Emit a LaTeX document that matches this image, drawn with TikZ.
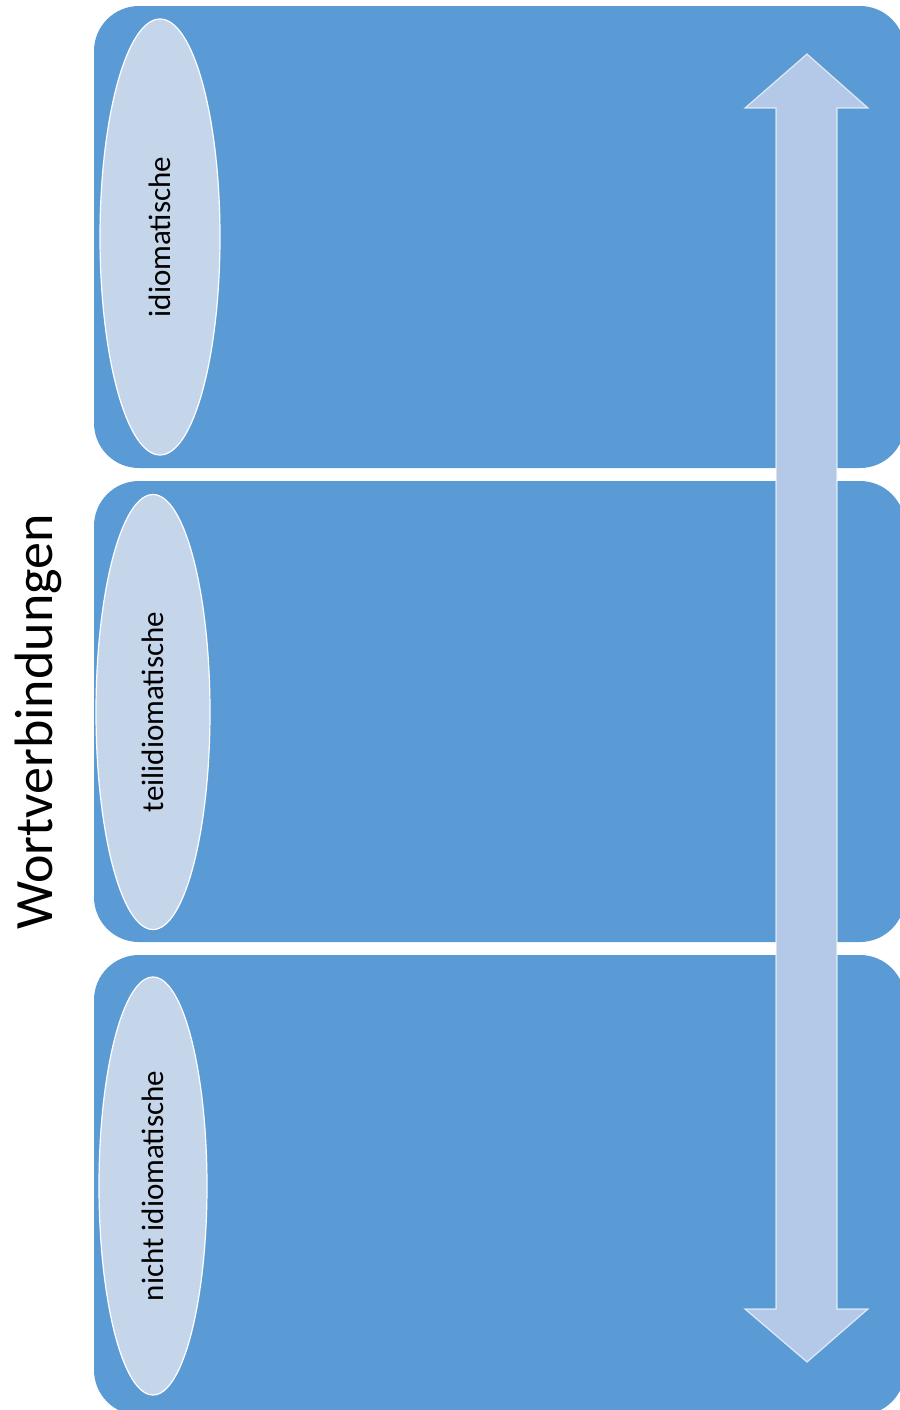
\documentclass[tikz,border=0pt]{standalone}
\usepackage{fontspec}
\setmainfont{Carlito}
\usetikzlibrary{shapes.geometric}
\definecolor{panelblue}{HTML}{5B9BD5}
\definecolor{ovalfill}{HTML}{C5D5EA}
\definecolor{arrowfill}{HTML}{B4C8E7}
\begin{document}
\begin{tikzpicture}[x=0.5pt,y=-0.5pt,
  panel/.style={rectangle, rounded corners=22.5pt, fill=panelblue, draw=none, inner sep=0pt},
  oval/.style={ellipse, fill=ovalfill, draw=white, line width=0.6pt, inner sep=0pt, rotate=90, font=\fontsize{15.5}{17}\selectfont},
  title/.style={rotate=90, font=\fontsize{27}{30}\selectfont}]
\useasboundingbox (0,0) rectangle (900,1410);
\begin{scope}
\clip (0,0) rectangle (900,1410);
% three stacked panels
\node[panel, minimum width=405.5pt, minimum height=231pt] (p1) at (499.5,237) {};
\node[panel, minimum width=405.5pt, minimum height=230.5pt] (p2) at (499.5,711.5) {};
\node[panel, minimum width=405.5pt, minimum height=230pt] (p3) at (499.5,1185) {};
% vertical double arrow spanning the panels
\fill[arrowfill, draw=white, draw opacity=0.7, line width=0.6pt]
  (807,54) -- (868,108) -- (837,108) -- (837,1309) -- (868,1309) -- (807,1362)
  -- (745,1309) -- (776,1309) -- (776,108) -- (745,108) -- cycle;
\end{scope}
% category ovals
\node[oval, minimum width=218pt, minimum height=60pt] (o1) at (160,237) {idiomatische};
\node[oval, minimum width=217.5pt, minimum height=57pt] (o2) at (153,712) {teilidiomatische};
\node[oval, minimum width=209pt, minimum height=54pt] (o3) at (153,1186) {nicht idiomatische};
% heading
\node[title] (t) at (38,722) {Wortverbindungen};
\end{tikzpicture}
\end{document}
